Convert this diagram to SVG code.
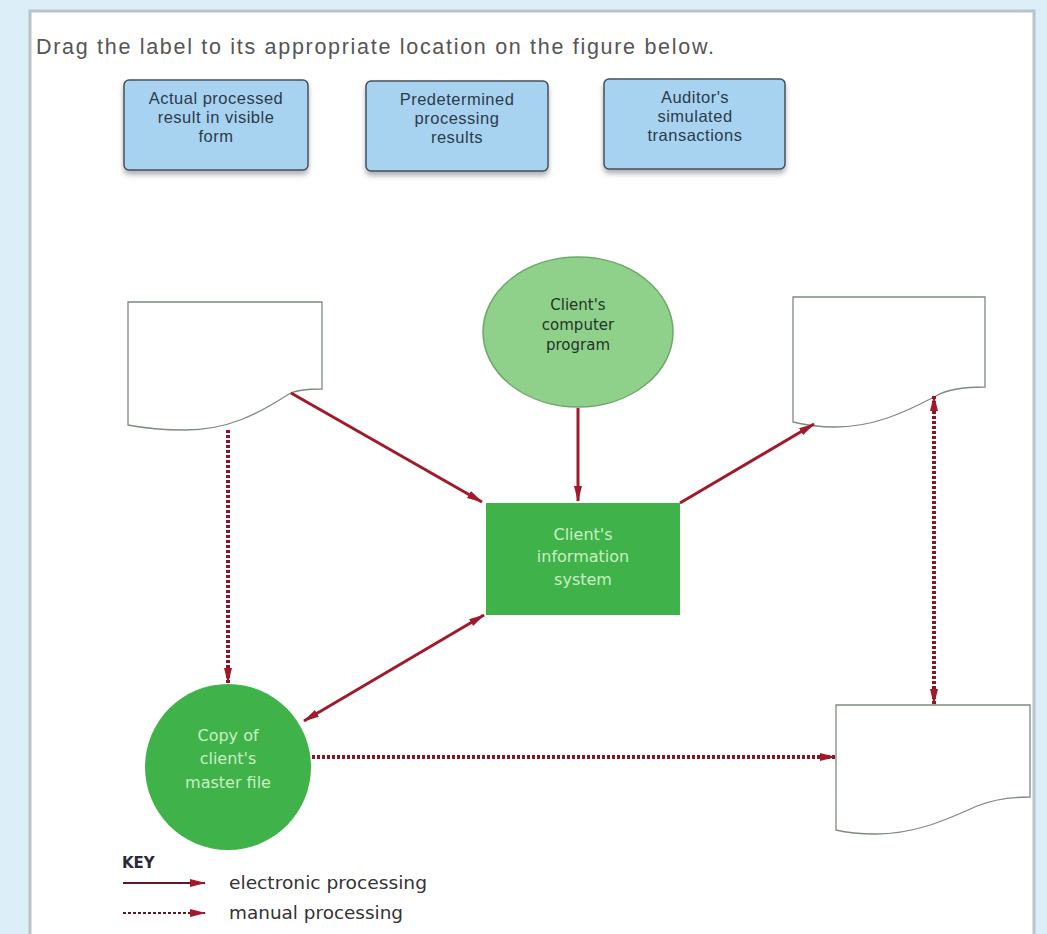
<svg xmlns="http://www.w3.org/2000/svg" width="1047" height="934" viewBox="0 0 1047 934">
<defs>
<style>
.lbl{fill:#a8d3f0;stroke:#45505a;stroke-width:1.5}
.lt{font-family:"Liberation Sans",sans-serif;font-size:16.5px;fill:#2b3b4b;text-anchor:middle}
.doc{fill:#ffffff;stroke:#7d8c7d;stroke-width:1.3}
.nt{font-family:"DejaVu Sans","Liberation Sans",sans-serif;text-anchor:middle}
.el{stroke:#a01a2c;stroke-width:3;fill:none}
.man{stroke:#8a1526;stroke-width:4;stroke-dasharray:3 2;fill:none}
.key{font-family:"DejaVu Sans","Liberation Sans",sans-serif;font-size:17px;fill:#333}
</style>
<marker id="ah" viewBox="0 0 16 10" refX="15" refY="5" markerWidth="16" markerHeight="10" markerUnits="userSpaceOnUse" orient="auto-start-reverse">
<path d="M0,1 L16,5 L0,9 Z" fill="#a01a2c"/>
</marker>
<filter id="sh" x="-10%" y="-10%" width="120%" height="130%">
<feDropShadow dx="0" dy="4" stdDeviation="2.5" flood-color="#556" flood-opacity="0.45"/>
</filter>
</defs>
<rect x="0" y="0" width="1047" height="934" fill="#dceef8"/>
<rect x="30" y="11" width="1004" height="930" fill="#ffffff" stroke="#b9c4cc" stroke-width="3"/>
<text x="36" y="54" font-family="Liberation Sans, sans-serif" font-size="21.5" fill="#555" letter-spacing="1.7">Drag the label to its appropriate location on the figure below.</text>

<g id="label-actual">
<rect class="lbl" x="124" y="80" width="184" height="90" rx="5" filter="url(#sh)"/>
<text class="lt" x="216" y="104" letter-spacing="0.5">Actual processed</text>
<text class="lt" x="216" y="123" letter-spacing="0.5">result in visible</text>
<text class="lt" x="216" y="142" letter-spacing="0.5">form</text>
</g>
<g id="label-predetermined">
<rect class="lbl" x="366" y="81" width="182" height="90" rx="5" filter="url(#sh)"/>
<text class="lt" x="457" y="105" letter-spacing="0.5">Predetermined</text>
<text class="lt" x="457" y="124" letter-spacing="0.5">processing</text>
<text class="lt" x="457" y="143" letter-spacing="0.5">results</text>
</g>
<g id="label-auditor">
<rect class="lbl" x="604" y="79" width="181" height="90" rx="5" filter="url(#sh)"/>
<text class="lt" x="695" y="103" letter-spacing="0.5">Auditor's</text>
<text class="lt" x="695" y="122" letter-spacing="0.5">simulated</text>
<text class="lt" x="695" y="141" letter-spacing="0.5">transactions</text>
</g>

<g id="doc-left">
<path class="doc" d="M128,302 H322 V389 C305,389 296,390 289,394 C258,414 228,430 185,430 C155,430 138,427 128,425 Z"/>
</g>
<g id="doc-right-top">
<path class="doc" d="M793,297 H985 V387 C960,387 946,390 936,396 C902,414 872,427 835,427 C815,427 801,424 793,422 Z"/>
</g>
<g id="doc-right-bottom">
<path class="doc" d="M836,705 H1030 V797 C1006,797 992,800 977,806 C942,822 912,834 876,834 C856,834 844,832 836,830 Z"/>
</g>

<g id="connectors">
<line class="el" x1="291" y1="393" x2="482" y2="502" marker-end="url(#ah)"/>
<line class="el" x1="578" y1="408" x2="578" y2="501" marker-end="url(#ah)"/>
<line class="el" x1="680" y1="503" x2="814" y2="424" marker-end="url(#ah)"/>
<line class="el" x1="484" y1="615" x2="304" y2="721" marker-start="url(#ah)" marker-end="url(#ah)"/>
<line class="man" x1="228" y1="430" x2="228" y2="683" marker-end="url(#ah)"/>
<line class="man" x1="312" y1="757" x2="835" y2="757" marker-end="url(#ah)"/>
<line class="man" x1="934" y1="396" x2="934" y2="704" marker-start="url(#ah)" marker-end="url(#ah)"/>
</g>

<g id="program">
<ellipse cx="578" cy="332" rx="95" ry="75" fill="#8fd18a" stroke="#6aa866" stroke-width="1.5"/>
<text class="nt" x="578" y="310" font-size="15" fill="#24342a">Client's</text>
<text class="nt" x="578" y="330" font-size="15" fill="#24342a">computer</text>
<text class="nt" x="578" y="350" font-size="15" fill="#24342a">program</text>
</g>
<g id="info-system">
<rect x="486" y="503" width="194" height="112" fill="#3fb34a"/>
<text class="nt" x="583" y="540" font-size="16" fill="#c9efc3">Client's</text>
<text class="nt" x="583" y="562" font-size="16" fill="#c9efc3">information</text>
<text class="nt" x="583" y="585" font-size="16" fill="#c9efc3">system</text>
</g>
<g id="master-file">
<circle cx="228" cy="767" r="83" fill="#3fb34a"/>
<text class="nt" x="228" y="741" font-size="16" fill="#c9efc3">Copy of</text>
<text class="nt" x="228" y="764" font-size="16" fill="#c9efc3">client's</text>
<text class="nt" x="228" y="788" font-size="16" fill="#c9efc3">master file</text>
</g>

<g id="key">
<text x="122" y="868" font-family="DejaVu Sans, sans-serif" font-size="15" font-weight="bold" fill="#2a2a3a">KEY</text>
<line x1="123" y1="883" x2="205" y2="883" stroke="#5a1a22" stroke-width="2" marker-end="url(#ah)"/>
<line x1="123" y1="913" x2="205" y2="913" stroke="#5a1a22" stroke-width="2" stroke-dasharray="3 2" marker-end="url(#ah)"/>
<text class="key" x="229" y="889" textLength="198" lengthAdjust="spacingAndGlyphs">electronic processing</text>
<text class="key" x="229" y="919" textLength="174" lengthAdjust="spacingAndGlyphs">manual processing</text>
</g>
</svg>
